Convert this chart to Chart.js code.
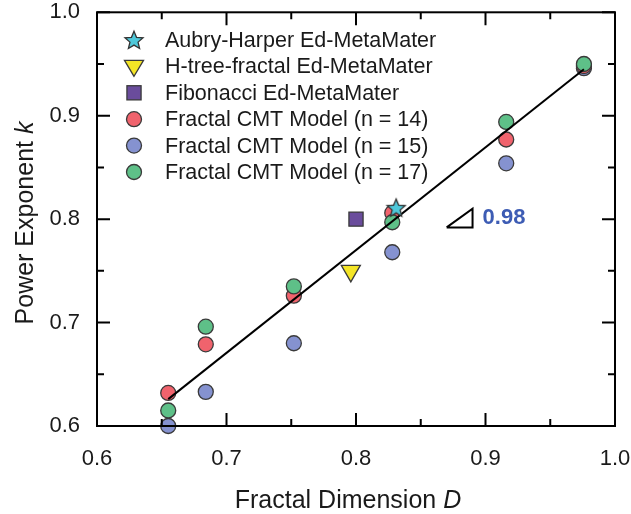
<!DOCTYPE html>
<html>
<head>
<meta charset="utf-8">
<script src="https://cdn.jsdelivr.net/npm/chart.js@4.4.1/dist/chart.umd.min.js"></script>
<style>
  body { margin: 0; background: #fff; }
  #wrap { width: 631px; height: 514px; }
</style>
</head>
<body>
<div id="wrap"><canvas id="chart" width="631" height="514"></canvas></div>
<script>
// fractal dimension of each model column
const dimD = [0.655, 0.684, 0.752, 0.828, 0.916, 0.976];
const k_n14 = [0.632, 0.679, 0.726, 0.806, 0.877, 0.948];
const k_n15 = [0.600, 0.633, 0.680, 0.768, 0.854, 0.946];
const k_n17 = [0.615, 0.696, 0.735, 0.797, 0.894, 0.950];
// experiments
const aubryD = [0.831], aubryK = [0.811];
const htreeD = [0.796], htreeK = [0.750];
const fiboD = [0.800], fiboK = [0.800];
// fitted line and slope marker
const fitD = [0.655, 0.976], fitK = [0.626, 0.945];
const slopeD = [0.870, 0.890, 0.890, 0.870], slopeK = [0.792, 0.810, 0.792, 0.792];
const slopeText = "0.98";
const xTicks = [0.6, 0.7, 0.8, 0.9, 1.0];
const yTicks = [0.6, 0.7, 0.8, 0.9, 1.0];

const FONT = "'Liberation Sans', Arial, sans-serif";
const pts = (xs, ys) => xs.map((x, i) => ({ x: x, y: ys[i] }));

// filled five point star used as point style
function makeStar(size, fill) {
  const c = document.createElement("canvas");
  c.width = size; c.height = size;
  const g = c.getContext("2d");
  const cx = size / 2, cy = size / 2 + 0.8, R = size / 2 - 1.5, r = R * 0.45;
  g.beginPath();
  for (let i = 0; i < 10; i++) {
    const a = -Math.PI / 2 + i * Math.PI / 5;
    const rr = i % 2 === 0 ? R : r;
    g.lineTo(cx + rr * Math.cos(a), cy + rr * Math.sin(a));
  }
  g.closePath();
  g.fillStyle = fill;
  g.fill();
  g.lineWidth = 1.3;
  g.strokeStyle = "#333";
  g.stroke();
  return c;
}
const starImg = makeStar(22, "#4ec8da");

const edge = "#3a3a3a";
const datasets = [
  { label: "Aubry-Harper Ed-MetaMater", data: pts(aubryD, aubryK), pointStyle: starImg,
    backgroundColor: "#4ec8da", borderColor: edge, order: 0, legend: 0 },
  { label: "fit", data: pts(fitD, fitK), showLine: true, borderColor: "#000", borderWidth: 2,
    pointRadius: 0, order: 1 },
  { label: "slope", data: pts(slopeD, slopeK), showLine: true, borderColor: "#000", borderWidth: 2,
    pointRadius: 0, order: 1 },
  { label: "H-tree-fractal Ed-MetaMater", data: pts(htreeD, htreeK), pointStyle: "triangle", rotation: 180,
    pointRadius: 11, backgroundColor: "#f4e526", borderColor: edge, order: 2, legend: 1 },
  { label: "Fibonacci Ed-MetaMater", data: pts(fiboD, fiboK), pointStyle: "rect",
    pointRadius: 10, backgroundColor: "#6a4c9c", borderColor: edge, order: 2, legend: 2 },
  { label: "Fractal CMT Model (n = 17)", data: pts(dimD, k_n17), backgroundColor: "#5ec088",
    borderColor: edge, order: 3, legend: 5 },
  { label: "Fractal CMT Model (n = 14)", data: pts(dimD, k_n14), backgroundColor: "#f0636d",
    borderColor: edge, order: 4, legend: 3 },
  { label: "Fractal CMT Model (n = 15)", data: pts(dimD, k_n15), backgroundColor: "#8592d0",
    borderColor: edge, order: 5, legend: 4 },
];
datasets.forEach((d) => {
  d.clip = false;
  if (d.pointRadius === undefined) d.pointRadius = 7.5;
  d.pointBorderWidth = 1.3;
  d.pointBackgroundColor = d.backgroundColor;
  d.pointBorderColor = d.borderColor;
});

function marker(ctx, ds, x, y) {
  ctx.save();
  ctx.fillStyle = ds.backgroundColor;
  ctx.strokeStyle = ds.borderColor;
  ctx.lineWidth = 1.3;
  const r = ds.pointRadius;
  if (ds.pointStyle === starImg) {
    ctx.drawImage(starImg, x - 11, y - 11);
  } else if (ds.pointStyle === "rect") {
    const s = r * Math.SQRT2;
    ctx.fillRect(x - s / 2, y - s / 2, s, s);
    ctx.strokeRect(x - s / 2, y - s / 2, s, s);
  } else if (ds.pointStyle === "triangle") {
    ctx.beginPath();
    ctx.moveTo(x, y + r * 0.9);
    ctx.lineTo(x - r * 0.866, y - r * 0.55);
    ctx.lineTo(x + r * 0.866, y - r * 0.55);
    ctx.closePath();
    ctx.fill(); ctx.stroke();
  } else {
    ctx.beginPath();
    ctx.arc(x, y, r, 0, Math.PI * 2);
    ctx.fill(); ctx.stroke();
  }
  ctx.restore();
}

const framePlugin = {
  id: "frame",
  afterDraw(chart) {
    const { ctx, chartArea: a, scales } = chart;
    const sx = scales.x, sy = scales.y;
    ctx.save();
    ctx.strokeStyle = "#000";
    ctx.lineWidth = 2;
    ctx.strokeRect(a.left, a.top, a.right - a.left, a.bottom - a.top);
    // inward ticks, majors every 0.1, minors every 0.05
    ctx.beginPath();
    for (let i = 0; i <= 8; i++) {
      const v = 0.6 + i * 0.05;
      const len = i % 2 === 0 ? 13 : 7;
      const px = sx.getPixelForValue(v), py = sy.getPixelForValue(v);
      ctx.moveTo(px, a.bottom); ctx.lineTo(px, a.bottom - len);
      ctx.moveTo(px, a.top); ctx.lineTo(px, a.top + len);
      ctx.moveTo(a.left, py); ctx.lineTo(a.left + len, py);
      ctx.moveTo(a.right, py); ctx.lineTo(a.right - len, py);
    }
    ctx.stroke();

    // axis titles with italic symbol
    ctx.fillStyle = "#1a1a1a";
    ctx.textBaseline = "alphabetic";
    const normal = "25px " + FONT, italic = "italic 25px " + FONT;
    ctx.font = normal;
    const xa = "Fractal Dimension ", ya = "Power Exponent ";
    const wxa = ctx.measureText(xa).width, wya = ctx.measureText(ya).width;
    ctx.font = italic;
    const wD = ctx.measureText("D").width, wk = ctx.measureText("k").width;
    let x0 = (a.left + a.right) / 2 - 8 - (wxa + wD) / 2;
    ctx.font = normal; ctx.textAlign = "left";
    ctx.fillText(xa, x0, 508);
    ctx.font = italic;
    ctx.fillText("D", x0 + wxa, 508);
    ctx.translate(33, 223);
    ctx.rotate(-Math.PI / 2);
    x0 = -(wya + wk) / 2;
    ctx.font = normal;
    ctx.fillText(ya, x0, 0);
    ctx.font = italic;
    ctx.fillText("k", x0 + wya, 0);
    ctx.restore();

    // slope label
    ctx.save();
    ctx.font = "bold 22px " + FONT;
    ctx.fillStyle = "#3d5cb4";
    ctx.textBaseline = "middle";
    ctx.fillText(slopeText, sx.getPixelForValue(slopeD[1]) + 10, sy.getPixelForValue((slopeK[0] + slopeK[1]) / 2));
    ctx.restore();

    // legend inside the plot
    const items = chart.data.datasets.filter((d) => d.legend !== undefined)
      .sort((p, q) => p.legend - q.legend);
    ctx.save();
    ctx.font = "21.5px " + FONT;
    ctx.fillStyle = "#1a1a1a";
    ctx.textBaseline = "middle";
    items.forEach((d, i) => {
      const y = 40 + i * 26.4;
      marker(ctx, d, 134, y);
      ctx.fillText(d.label, 165, y + 1);
    });
    ctx.restore();
  },
};

new Chart(document.getElementById("chart"), {
  type: "scatter",
  data: { datasets: datasets },
  options: {
    responsive: false,
    animation: false,
    layout: { padding: { left: 0, top: 8, right: 16, bottom: 0 } },
    plugins: { legend: { display: false }, tooltip: { enabled: false } },
    scales: {
      x: {
        min: 0.6, max: 1.0,
        afterBuildTicks: (s) => { s.ticks = xTicks.map((v) => ({ value: v })); },
        afterFit: (s) => { s.height = 88; s.paddingLeft = 0; s.paddingRight = 0; },
        grid: { display: false, drawTicks: false },
        border: { display: false },
        ticks: { padding: 20, color: "#1a1a1a", font: { size: 22, family: FONT },
          callback: (v) => v.toFixed(1), maxRotation: 0 },
      },
      y: {
        min: 0.6, max: 1.0,
        afterBuildTicks: (s) => { s.ticks = yTicks.map((v) => ({ value: v })); },
        afterFit: (s) => { s.width = 97; s.paddingTop = 0; s.paddingBottom = 0; },
        grid: { display: false, drawTicks: false },
        border: { display: false },
        ticks: { padding: 17, color: "#1a1a1a", font: { size: 22, family: FONT },
          callback: (v) => v.toFixed(1) },
      },
    },
  },
  plugins: [framePlugin],
});
</script>
</body>
</html>
